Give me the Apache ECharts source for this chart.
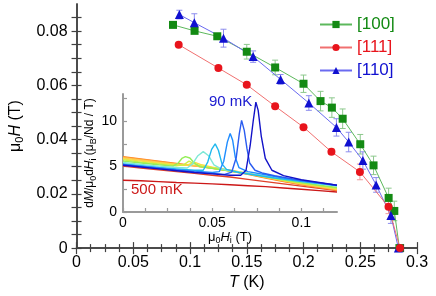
<!DOCTYPE html>
<html>
<head>
<meta charset="utf-8">
<script src="https://cdn.jsdelivr.net/npm/echarts@6/dist/echarts.min.js"></script>
<style>html,body{margin:0;padding:0;background:#fff}#c{width:436px;height:296px}</style>
</head>
<body>
<div id="c"></div>
<script>
// ---------- main plot data: T (K) vs mu0 H (T) ----------
const T100 = [0.085, 0.104, 0.124, 0.150, 0.175, 0.200, 0.215, 0.225, 0.2345, 0.250, 0.2617, 0.275, 0.280, 0.2845];
const H100 = [0.0823, 0.0801, 0.0781, 0.0724, 0.0666, 0.0606, 0.0542, 0.0518, 0.0477, 0.0383, 0.0305, 0.0185, 0.0137, 0];
const E100 = [0, 0, 0.001, 0.0027, 0.0027, 0.0032, 0.0036, 0.0036, 0.0036, 0.0036, 0.0034, 0.0036, 0.0036, 0];

const T111 = [0.090, 0.125, 0.150, 0.175, 0.200, 0.2246, 0.2497, 0.2749, 0.285];
const H111 = [0.075, 0.0664, 0.0602, 0.0523, 0.0446, 0.0355, 0.0281, 0.0152, 0];
const E111 = [0, 0, 0, 0, 0, 0.001, 0.0029, 0.0025, 0];

const T110 = [0.0906, 0.1038, 0.1295, 0.1556, 0.1798, 0.2047, 0.229, 0.2398, 0.2523, 0.264, 0.277, 0.2836];
const H110 = [0.0861, 0.0831, 0.0774, 0.0706, 0.0622, 0.0535, 0.0445, 0.0391, 0.0323, 0.0233, 0.0120, 0];
const E110 = [0.0016, 0.0033, 0.0033, 0.0021, 0.0018, 0.0027, 0.0032, 0.0036, 0.0032, 0.0027, 0.0029, 0];

const seriesNames = ['[100]', '[111]', '[110]'];

// main tick values
const mainXTicks = [0, 0.05, 0.1, 0.15, 0.2, 0.25, 0.3];
const mainYLabels = [0, 0.02, 0.04, 0.06, 0.08];
const mainYTicks = [0,0.005,0.01,0.015,0.02,0.025,0.03,0.035,0.04,0.045,0.05,0.055,0.06,0.065,0.07,0.075,0.08,0.085];

// ---------- inset data: dM/mu0dHi vs mu0 Hi, one curve per temperature ----------
const insetTemps = ['90 mK','110 mK','130 mK','150 mK','175 mK','200 mK','225 mK','250 mK','275 mK','300 mK','350 mK','400 mK','500 mK'];
const c90  = [[0,5.15],[0.01,4.95],[0.02,4.75],[0.03,4.55],[0.04,4.35],[0.05,4.2],[0.06,4.05],[0.066,4.05],[0.069,4.6],[0.0713,7.3],[0.073,10],[0.0745,12.1],[0.0758,11.2],[0.0775,8.4],[0.0798,5.9],[0.0835,4.6],[0.09,4.0],[0.1,3.55],[0.11,3.25],[0.12,2.95]];
const c110 = [[0,5.2],[0.01,5.0],[0.02,4.8],[0.03,4.6],[0.04,4.4],[0.05,4.25],[0.057,4.15],[0.061,4.4],[0.0635,6.0],[0.0652,8.6],[0.0665,10.1],[0.068,9.0],[0.0695,7.0],[0.071,5.4],[0.074,4.6],[0.078,4.3],[0.085,4.0],[0.095,3.65],[0.105,3.35],[0.12,2.95]];
const c130 = [[0,5.25],[0.01,5.05],[0.02,4.85],[0.03,4.65],[0.04,4.5],[0.05,4.35],[0.054,4.45],[0.0565,5.6],[0.0585,7.7],[0.0601,8.65],[0.0615,7.9],[0.063,6.0],[0.065,4.9],[0.07,4.45],[0.08,4.1],[0.09,3.75],[0.1,3.45],[0.11,3.2],[0.12,2.95]];
const c150 = [[0,5.3],[0.01,5.1],[0.02,4.9],[0.03,4.75],[0.04,4.6],[0.045,4.6],[0.0475,5.5],[0.0497,6.9],[0.0517,7.5],[0.0535,6.8],[0.0555,5.3],[0.058,4.7],[0.065,4.35],[0.075,4.05],[0.085,3.75],[0.095,3.5],[0.105,3.25],[0.12,2.9]];
const c175 = [[0,5.45],[0.01,5.25],[0.02,5.05],[0.03,4.9],[0.036,4.85],[0.039,5.3],[0.042,6.2],[0.045,6.65],[0.048,6.2],[0.051,5.2],[0.055,4.75],[0.06,4.55],[0.07,4.25],[0.08,3.95],[0.09,3.65],[0.1,3.35],[0.11,3.1],[0.12,2.85]];
const c200 = [[0,5.6],[0.01,5.4],[0.02,5.2],[0.028,5.05],[0.031,5.4],[0.033,5.9],[0.035,6.1],[0.0375,5.95],[0.04,5.4],[0.043,5.0],[0.05,4.8],[0.06,4.5],[0.07,4.2],[0.08,3.9],[0.09,3.55],[0.1,3.25],[0.11,2.95],[0.12,2.7]];
const c225 = [[0,5.75],[0.01,5.5],[0.02,5.3],[0.03,5.1],[0.034,5.2],[0.037,5.6],[0.04,5.3],[0.045,5.0],[0.05,4.85],[0.06,4.55],[0.07,4.2],[0.08,3.85],[0.09,3.5],[0.1,3.2],[0.11,2.9],[0.12,2.6]];
const c250 = [[0,5.85],[0.01,5.6],[0.02,5.4],[0.03,5.2],[0.036,5.15],[0.04,5.5],[0.044,5.2],[0.05,4.95],[0.06,4.6],[0.07,4.25],[0.08,3.9],[0.09,3.5],[0.1,3.15],[0.11,2.85],[0.12,2.55]];
const c275 = [[0,5.95],[0.01,5.7],[0.02,5.45],[0.03,5.25],[0.04,5.1],[0.05,4.9],[0.06,4.6],[0.07,4.25],[0.08,3.85],[0.09,3.45],[0.1,3.1],[0.11,2.8],[0.12,2.5]];
const c300 = [[0,6.05],[0.01,5.8],[0.02,5.55],[0.03,5.3],[0.04,5.1],[0.05,4.85],[0.06,4.55],[0.07,4.2],[0.08,3.8],[0.09,3.4],[0.1,3.05],[0.11,2.75],[0.12,2.45]];
const c350 = [[0,6.1],[0.01,5.85],[0.02,5.6],[0.03,5.35],[0.04,5.1],[0.05,4.8],[0.06,4.5],[0.07,4.15],[0.08,3.75],[0.09,3.35],[0.1,3.0],[0.11,2.7],[0.12,2.4]];
const c400 = [[0,5.05],[0.01,4.85],[0.02,4.65],[0.03,4.45],[0.04,4.25],[0.05,4.05],[0.06,3.85],[0.07,3.6],[0.08,3.35],[0.09,3.1],[0.1,2.85],[0.11,2.6],[0.12,2.35]];
const c500 = [[0,3.5],[0.01,3.45],[0.02,3.35],[0.03,3.25],[0.04,3.18],[0.05,3.1],[0.06,3.0],[0.07,2.9],[0.08,2.8],[0.09,2.65],[0.1,2.5],[0.11,2.35],[0.12,2.2]];
const insetCurves = [c90,c110,c130,c150,c175,c200,c225,c250,c275,c300,c350,c400,c500];

const insetXLabels = [0, 0.05, 0.1];
const insetXTicks = [0,0.0125,0.025,0.0375,0.05,0.0625,0.075,0.0875,0.1,0.1125];
const insetYLabels = [0, 5, 10];
const insetYTicks = [0, 2.5, 5, 7.5, 10, 12.5];

// ---------- styles ----------
const insetColors = ['#1212c8','#2a5cf0','#1e8cff','#20b8ee','#7fe8d6','#94ee58','#cdef46','#f6df42','#ffc850','#ffa838','#ff7e22','#e0402a','#cc1818'];
const markerColors = ['#138a13','#e8141c','#1010d0'];
const lineColors = ['#5cb85c','#f07070','#6a6af0'];
const errColors = ['#8cc88c','#f09a9a','#8c8cee'];
const symbols = ['rect','circle','triangle'];
const symSizes = [8, 8, 9];
const FONT = 'Liberation Sans, Arial, Helvetica, sans-serif';
const axisCol = '#404040';
const insetAxisCol = '#9a9a9a';

const Ts = [T100, T111, T110], Hs = [H100, H111, H110], Es = [E100, E111, E110];

function zip2(a, b) { return a.map((v, i) => [v, b[i]]); }
function zip3(a, b, c) { return a.map((v, i) => [v, b[i], c[i]]); }

function errRender(params, api) {
  const x = api.value(0), y = api.value(1), e = api.value(2);
  if (!e) return null;
  const p1 = api.coord([x, y + e]), p2 = api.coord([x, y - e]);
  const w = 3;
  const style = { stroke: api.visual('color'), lineWidth: 1 };
  return { type: 'group', children: [
    { type: 'line', shape: { x1: p1[0], y1: p1[1], x2: p2[0], y2: p2[1] }, style },
    { type: 'line', shape: { x1: p1[0] - w, y1: p1[1], x2: p1[0] + w, y2: p1[1] }, style },
    { type: 'line', shape: { x1: p2[0] - w, y1: p2[1], x2: p2[0] + w, y2: p2[1] }, style }
  ]};
}

const rich16 = {
  i: { fontStyle: 'italic', fontSize: 16, fontFamily: FONT, color: '#000' },
  m: { fontSize: 16, fontFamily: FONT, color: '#000' },
  s: { fontSize: 11, fontFamily: FONT, color: '#000', padding: [8, 0, 0, 0] }
};
const rich13 = {
  i: { fontStyle: 'italic', fontSize: 13, fontFamily: FONT, color: '#000' },
  m: { fontSize: 13, fontFamily: FONT, color: '#000' },
  s: { fontSize: 9, fontFamily: FONT, color: '#000', padding: [7, 0, 0, 0] }
};
const rich12 = {
  i: { fontStyle: 'italic', fontSize: 12, fontFamily: FONT, color: '#000' },
  m: { fontSize: 12, fontFamily: FONT, color: '#000' },
  s: { fontSize: 9, fontFamily: FONT, color: '#000', padding: [6, 0, 0, 0] }
};

const series = [];
// inset curves first (drawn underneath)
insetCurves.forEach((c, k) => {
  series.push({
    name: insetTemps[k], type: 'line', xAxisIndex: 2, yAxisIndex: 2,
    data: c, showSymbol: false, symbol: 'none', smooth: false,
    lineStyle: { color: insetColors[k], width: 1.4 }, z: 2 + (12 - k) * 0.01
  });
});
// error bars
[0, 2, 1].forEach(k => {
  series.push({
    name: seriesNames[k] + ' err', type: 'custom', xAxisIndex: 0, yAxisIndex: 0,
    data: zip3(Ts[k], Hs[k], Es[k]), encode: { x: 0, y: 1 },
    renderItem: errRender, itemStyle: { color: errColors[k] }, z: 3
  });
});
// main series
[0, 2, 1].forEach(k => {
  series.push({
    name: seriesNames[k], type: 'line', xAxisIndex: 0, yAxisIndex: 0,
    data: zip2(Ts[k], Hs[k]), symbol: symbols[k], symbolSize: symSizes[k],
    lineStyle: { color: lineColors[k], width: 1 },
    itemStyle: { color: markerColors[k] }, z: 5
  });
});

const option = {
  animation: false,
  backgroundColor: '#fff',
  textStyle: { fontFamily: FONT },
  legend: {
    data: seriesNames.map((n, k) => ({ name: n, textStyle: { color: markerColors[k] } })),
    orient: 'vertical', left: 319, top: 16, padding: 0,
    itemWidth: 32, itemHeight: 9, itemGap: 6,
    textStyle: { fontSize: 17, fontFamily: FONT },
    selectedMode: false
  },
  grid: [
    { left: 75, right: 19, top: 4, bottom: 41 },
    { left: 123, right: 99, top: 94, bottom: 84 }
  ],
  xAxis: [
    { type: 'value', gridIndex: 0, position: 'bottom', min: 0, max: 0.3, interval: 0.05,
      axisLine: { lineStyle: { color: axisCol, width: 1.5 } },
      axisTick: { inside: true, length: 6, lineStyle: { color: axisCol, width: 1.2 } },
      minorTick: { show: true, splitNumber: 4, length: 4, lineStyle: { color: axisCol, width: 1.2 } },
      splitLine: { show: false },
      axisLabel: { fontSize: 16, color: '#000', margin: 6, customValues: mainXTicks },
      name: '{i|T} (K)', nameLocation: 'middle', nameGap: 23,
      nameTextStyle: { fontSize: 16, color: '#000', rich: rich16 } },
    { type: 'value', gridIndex: 0, position: 'top', min: 0, max: 0.3, interval: 0.05,
      axisLine: { lineStyle: { color: axisCol, width: 1.5 } },
      axisTick: { inside: true, length: 6, lineStyle: { color: axisCol, width: 1.2 } },
      minorTick: { show: true, splitNumber: 4, length: 4, lineStyle: { color: axisCol, width: 1.2 } },
      splitLine: { show: false }, axisLabel: { show: false } },
    { type: 'value', gridIndex: 1, min: 0, max: 0.12,
      axisLine: { lineStyle: { color: insetAxisCol, width: 2 } },
      axisTick: { inside: true, length: 4, customValues: insetXTicks, lineStyle: { color: insetAxisCol, width: 1.2 } },
      splitLine: { show: false },
      axisLabel: { fontSize: 14, color: '#000', margin: 4, customValues: insetXLabels },
      name: '{m|μ}{s|0}{i|H}{s|i} (T)', nameLocation: 'middle', nameGap: 16,
      nameTextStyle: { fontSize: 13, color: '#000', rich: rich13 } }
  ],
  yAxis: [
    { type: 'value', gridIndex: 0, position: 'left', min: 0, max: 0.09,
      axisLine: { lineStyle: { color: axisCol, width: 1.5 } },
      axisTick: { inside: true, length: 5, customValues: mainYTicks, lineStyle: { color: axisCol, width: 1.2 } },
      splitLine: { show: false },
      axisLabel: { fontSize: 16, color: '#000', margin: 9, customValues: mainYLabels },
      name: '{m|μ}{s|0}{i|H} (T)', nameLocation: 'middle', nameGap: 50,
      nameTextStyle: { fontSize: 16, color: '#000', rich: rich16 } },
    { type: 'value', gridIndex: 0, position: 'right', min: 0, max: 0.09,
      axisLine: { lineStyle: { color: axisCol, width: 1.5 } },
      axisTick: { inside: true, length: 5, customValues: mainYTicks, lineStyle: { color: axisCol, width: 1.2 } },
      splitLine: { show: false }, axisLabel: { show: false } },
    { type: 'value', gridIndex: 1, min: 0, max: 13,
      axisLine: { lineStyle: { color: insetAxisCol, width: 2 } },
      axisTick: { inside: true, length: 4, customValues: insetYTicks, lineStyle: { color: insetAxisCol, width: 1.2 } },
      splitLine: { show: false },
      axisLabel: { fontSize: 14, color: '#000', margin: 6, customValues: insetYLabels },
      name: 'd{i|M}/μ{s|0}d{i|H}{s|i} (μ{s|B}/Nd / T)', nameLocation: 'middle', nameGap: 15,
      nameTextStyle: { fontSize: 12, color: '#000', rich: rich12 } }
  ],
  graphic: [
    { type: 'text', left: 209, top: 94, style: { text: '90 mK', fontSize: 15, fontFamily: FONT, fill: '#1a1ad0' }, z: 10 },
    { type: 'text', left: 131, top: 182, style: { text: '500 mK', fontSize: 15, fontFamily: FONT, fill: '#cc1818' }, z: 10 }
  ],
  series: series
};

const chart = echarts.init(document.getElementById('c'), null, { renderer: 'canvas' });
chart.setOption(option);
</script>
</body>
</html>
